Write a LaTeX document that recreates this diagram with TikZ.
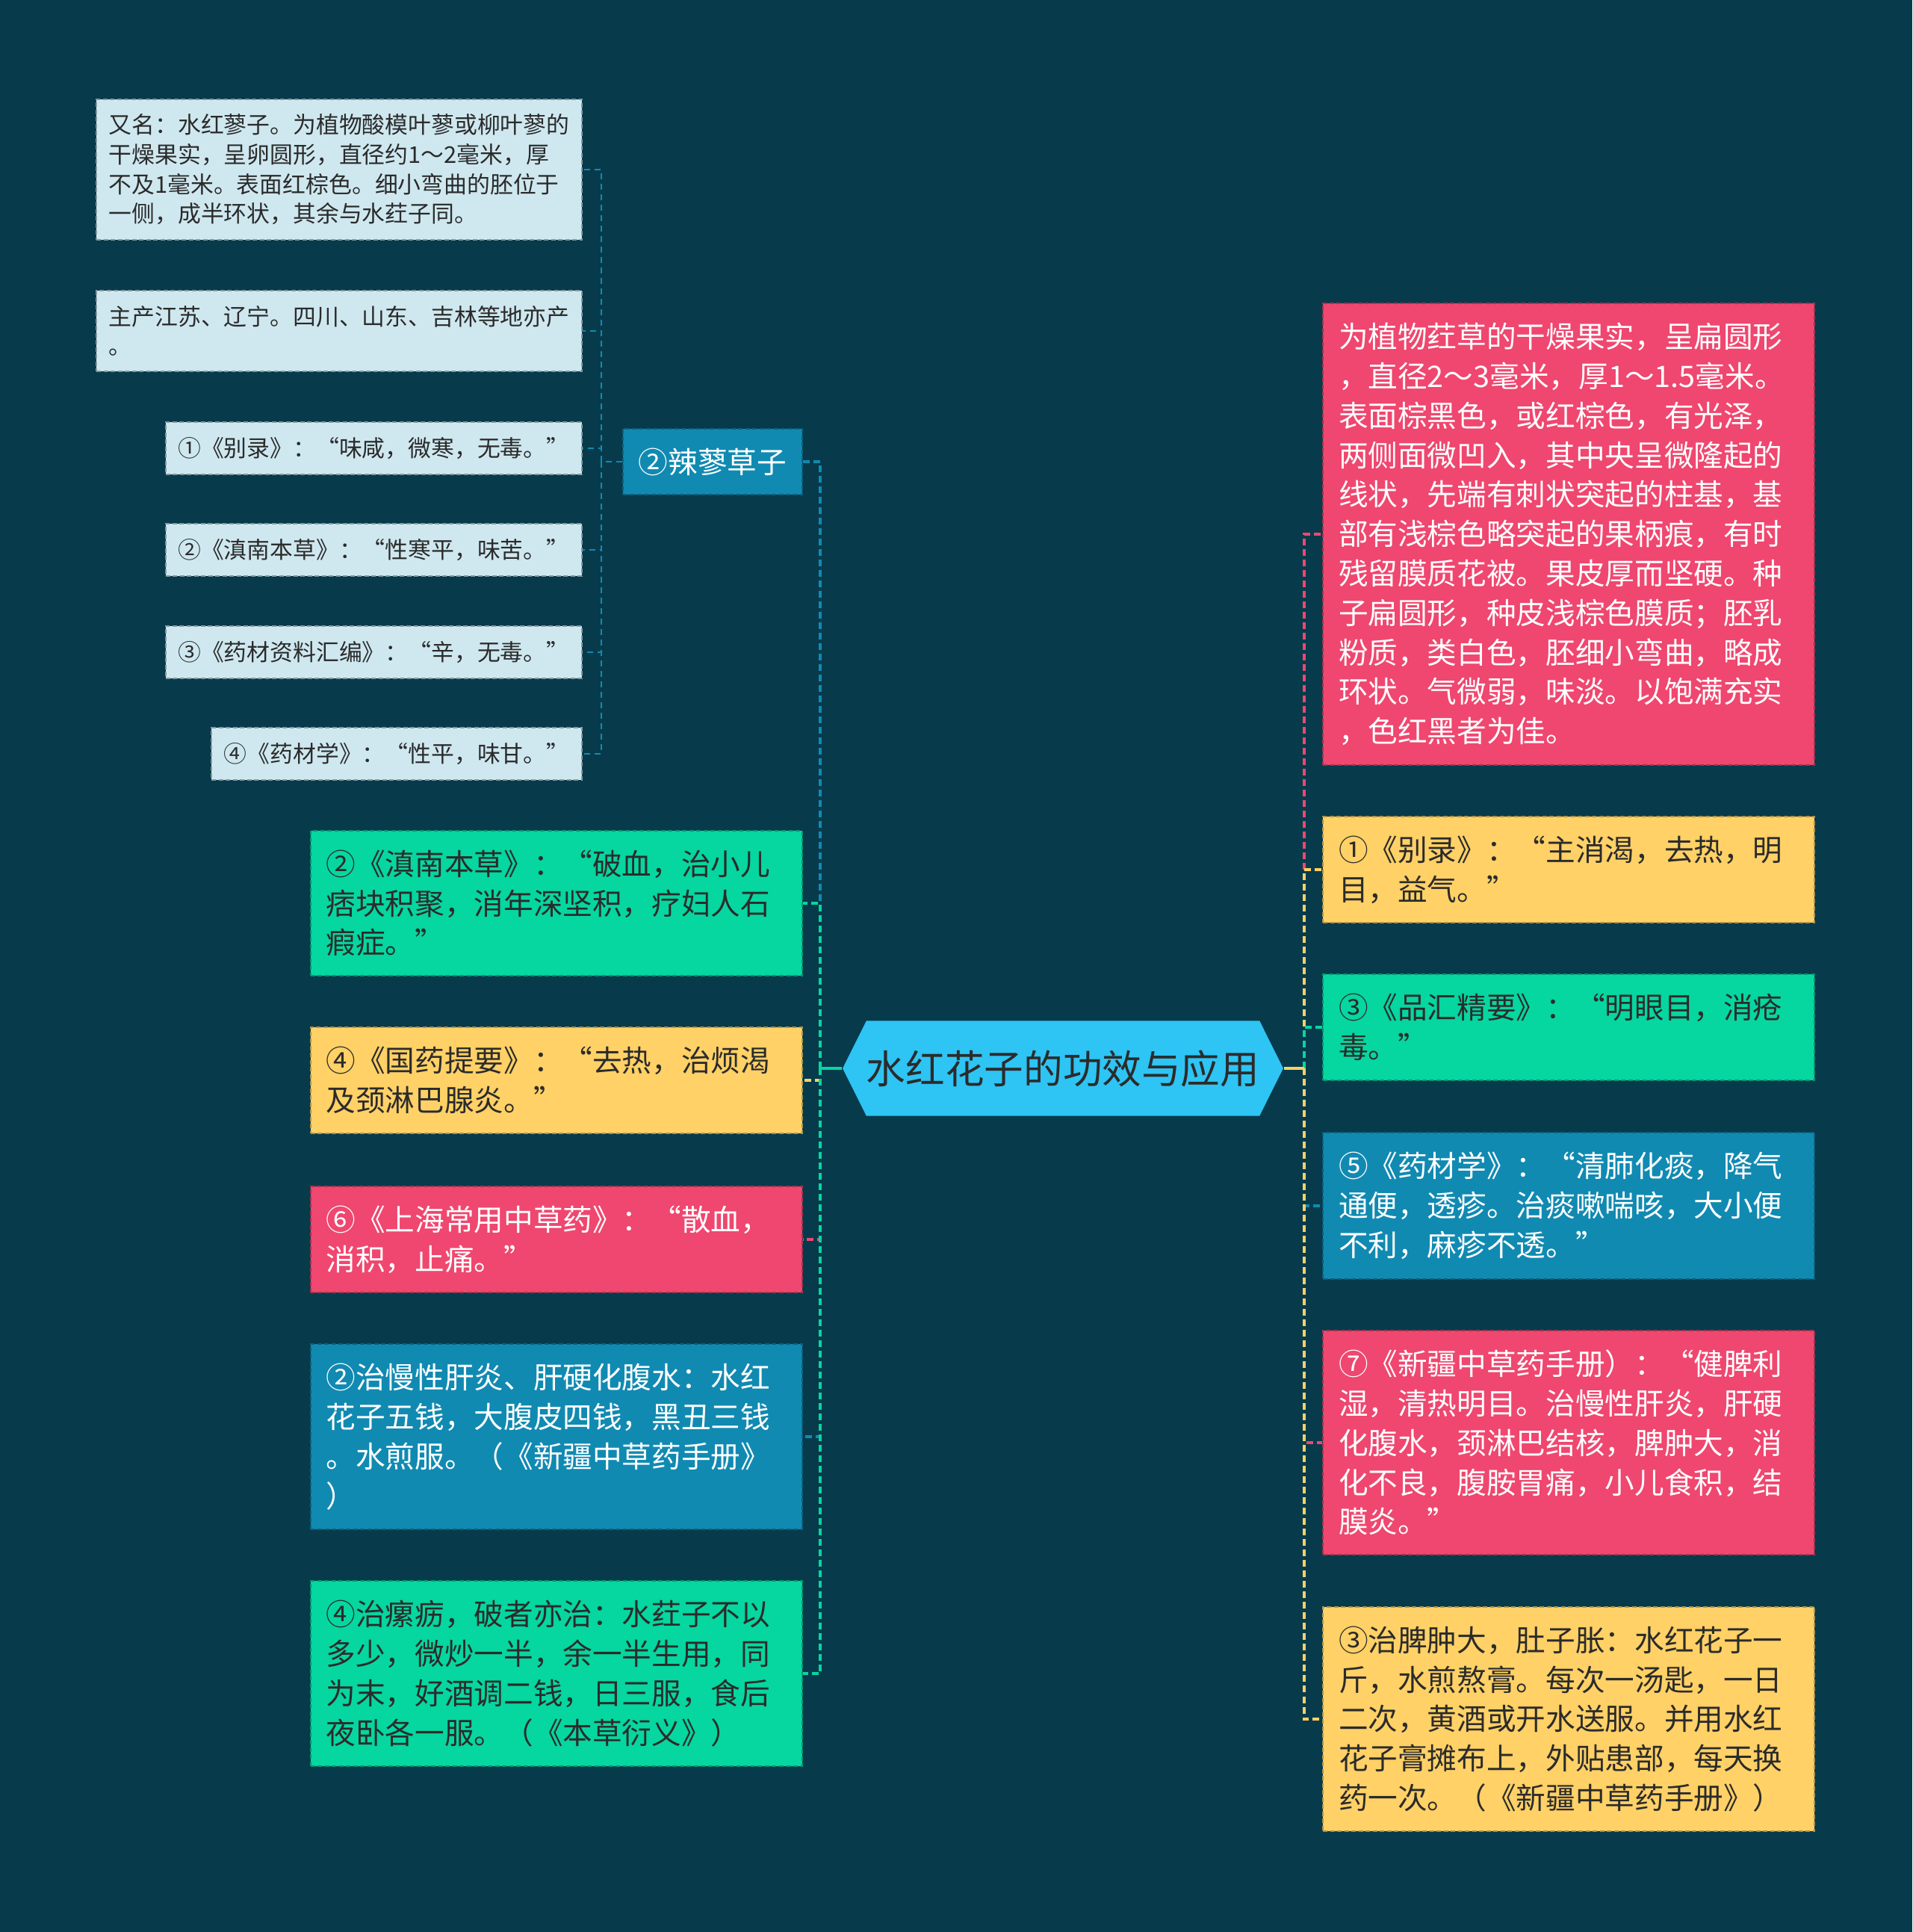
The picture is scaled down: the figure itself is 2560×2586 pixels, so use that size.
\documentclass[tikz,border=0pt]{standalone}
\usepackage{fontspec}
\setmainfont{Noto Sans CJK SC}
\usetikzlibrary{shapes.symbols}

\definecolor{mapbg}{HTML}{073B4C}
\definecolor{mapred}{HTML}{EF476F}
\definecolor{mapyellow}{HTML}{FFD166}
\definecolor{mapgreen}{HTML}{06D6A0}
\definecolor{mapblue}{HTML}{118AB2}
\definecolor{mapsky}{HTML}{2EC4F4}
\definecolor{mapink}{HTML}{2B2B2B}

\begin{document}
\begin{tikzpicture}[x=0.01cm, y=-0.01cm,
	every node/.style={font=\fontsize{11.27pt}{15.02pt}\selectfont},
	leaf/.style={draw, line width=0.02cm, dash pattern=on 0.06cm off 0.035cm, align=left,
		text width=6.16cm, inner xsep=0.21cm, inner ysep=0.26cm},
	leafl/.style={leaf, anchor=east},
	leafr/.style={leaf, anchor=west},
	greenbox/.style={fill=mapgreen, draw=mapgreen!70!black, text=mapink},
	yellowbox/.style={fill=mapyellow, draw=mapyellow!70!black, text=mapink},
	redbox/.style={fill=mapred, draw=mapred!70!black, text=white},
	bluebox/.style={fill=mapblue, draw=mapblue!70!black, text=white},
	note/.style={draw=mapblue!20!white!65!black, fill=mapblue!20!white, line width=0.02cm,
		dash pattern=on 0.06cm off 0.035cm, text=mapink, align=left, anchor=east,
		inner xsep=0.165cm, inner ysep=0.2cm, font=\fontsize{8.77pt}{11.27pt}\selectfont},
	hexa/.style={shape=signal, signal to=west and east, signal pointer angle=127,
		fill=mapsky, text=mapink, inner xsep=0pt, minimum height=1.27cm,
		font=\fontsize{14.97pt}{18pt}\selectfont},
	link/.style={line width=0.04cm, dash pattern=on 0.09cm off 0.05cm},
	twig/.style={mapblue, line width=0.025cm, dash pattern=on 0.08cm off 0.06cm}]

	% background
	\fill[mapbg] (0,0) rectangle (2560,2586);
	\useasboundingbox (0,0) rectangle (2560,2586);

	% centre
	\node[hexa] (c) at (1423,1430) {水红花子的功效与应用};
	\coordinate (hl) at ([xshift=-0.29cm]c.west);
	\coordinate (hr) at ([xshift=0.27cm]c.east);

	% left branch
	\node[bluebox, draw, line width=0.02cm, dash pattern=on 0.06cm off 0.035cm,
		anchor=east, inner xsep=0.21cm, inner ysep=0.26cm] (lb) at (1075,618) {②辣蓼草子};
	\node[leafl, greenbox] (l1) at (1075,1209) {②《滇南本草》：“破血，治小儿\\痞块积聚，消年深坚积，疗妇人石\\瘕症。”};
	\node[leafl, yellowbox] (l2) at (1075,1446) {④《国药提要》：“去热，治烦渴\\及颈淋巴腺炎。”};
	\node[leafl, redbox] (l3) at (1075,1659) {⑥《上海常用中草药》：“散血，\\消积，止痛。”};
	\node[leafl, bluebox] (l4) at (1075,1923) {②治慢性肝炎、肝硬化腹水：水红\\花子五钱，大腹皮四钱，黑丑三钱\\。水煎服。（《新疆中草药手册》\\）};
	\node[leafl, greenbox] (l5) at (1075,2240) {④治瘰疬，破者亦治：水荭子不以\\多少，微炒一半，余一半生用，同\\为末，好酒调二钱，日三服，食后\\夜卧各一服。（《本草衍义》）};

	% notes under 辣蓼草子
	\node[note] (s1) at (780,227) {又名：水红蓼子。为植物酸模叶蓼或柳叶蓼的\\干燥果实，呈卵圆形，直径约1～2毫米，厚\\不及1毫米。表面红棕色。细小弯曲的胚位于\\一侧，成半环状，其余与水荭子同。};
	\node[note] (s2) at (780,443) {主产江苏、辽宁。四川、山东、吉林等地亦产\\。};
	\node[note] (s3) at (780,600) {①《别录》：“味咸，微寒，无毒。”};
	\node[note] (s4) at (780,736) {②《滇南本草》：“性寒平，味苦。”};
	\node[note] (s5) at (780,873) {③《药材资料汇编》：“辛，无毒。”};
	\node[note] (s6) at (780,1009) {④《药材学》：“性平，味甘。”};
	\coordinate (hs) at ([xshift=-0.28cm]lb.west);

	% right branch
	\node[leafr, redbox] (r1) at (1770,715) {为植物荭草的干燥果实，呈扁圆形\\，直径2～3毫米，厚1～1.5毫米。\\表面棕黑色，或红棕色，有光泽，\\两侧面微凹入，其中央呈微隆起的\\线状，先端有刺状突起的柱基，基\\部有浅棕色略突起的果柄痕，有时\\残留膜质花被。果皮厚而坚硬。种\\子扁圆形，种皮浅棕色膜质；胚乳\\粉质，类白色，胚细小弯曲，略成\\环状。气微弱，味淡。以饱满充实\\，色红黑者为佳。};
	\node[leafr, yellowbox] (r2) at (1770,1164) {①《别录》：“主消渴，去热，明\\目，益气。”};
	\node[leafr, greenbox] (r3) at (1770,1375) {③《品汇精要》：“明眼目，消疮\\毒。”};
	\node[leafr, bluebox] (r4) at (1770,1614) {⑤《药材学》：“清肺化痰，降气\\通便，透疹。治痰嗽喘咳，大小便\\不利，麻疹不透。”};
	\node[leafr, redbox] (r5) at (1770,1931) {⑦《新疆中草药手册）：“健脾利\\湿，清热明目。治慢性肝炎，肝硬\\化腹水，颈淋巴结核，脾肿大，消\\化不良，腹胺胃痛，小儿食积，结\\膜炎。”};
	\node[leafr, yellowbox] (r6) at (1770,2301) {③治脾肿大，肚子胀：水红花子一\\斤，水煎熬膏。每次一汤匙，一日\\二次，黄酒或开水送服。并用水红\\花子膏摊布上，外贴患部，每天换\\药一次。（《新疆中草药手册》）};

	% connectors
	\draw[twig] (lb.west) -- (hs);
	\foreach \n in {s1,s2,s3,s4,s5,s6}
		\draw[twig] (hs) |- (\n.east);
	\draw[link, mapblue] (hl) |- (lb.east);
	\draw[link, mapgreen] (hl) |- (l1.east);
	\draw[link, mapyellow] (hl) |- (l2.east);
	\draw[link, mapred] (hl) |- (l3.east);
	\draw[link, mapblue] (hl) |- (l4.east);
	\draw[link, mapgreen] (hl) |- (l5.east);
	\draw[link, mapred] (hr) |- (r1.west);
	\draw[link, mapyellow] (hr) |- (r2.west);
	\draw[link, mapgreen] (hr) |- (r3.west);
	\draw[link, mapblue] (hr) |- (r4.west);
	\draw[link, mapred] (hr) |- (r5.west);
	\draw[link, mapyellow] (hr) |- (r6.west);
	\draw[mapgreen, line width=0.035cm] (c.west) -- (hl);
	\draw[mapyellow, line width=0.035cm] (c.east) -- (hr);
\end{tikzpicture}
\end{document}
